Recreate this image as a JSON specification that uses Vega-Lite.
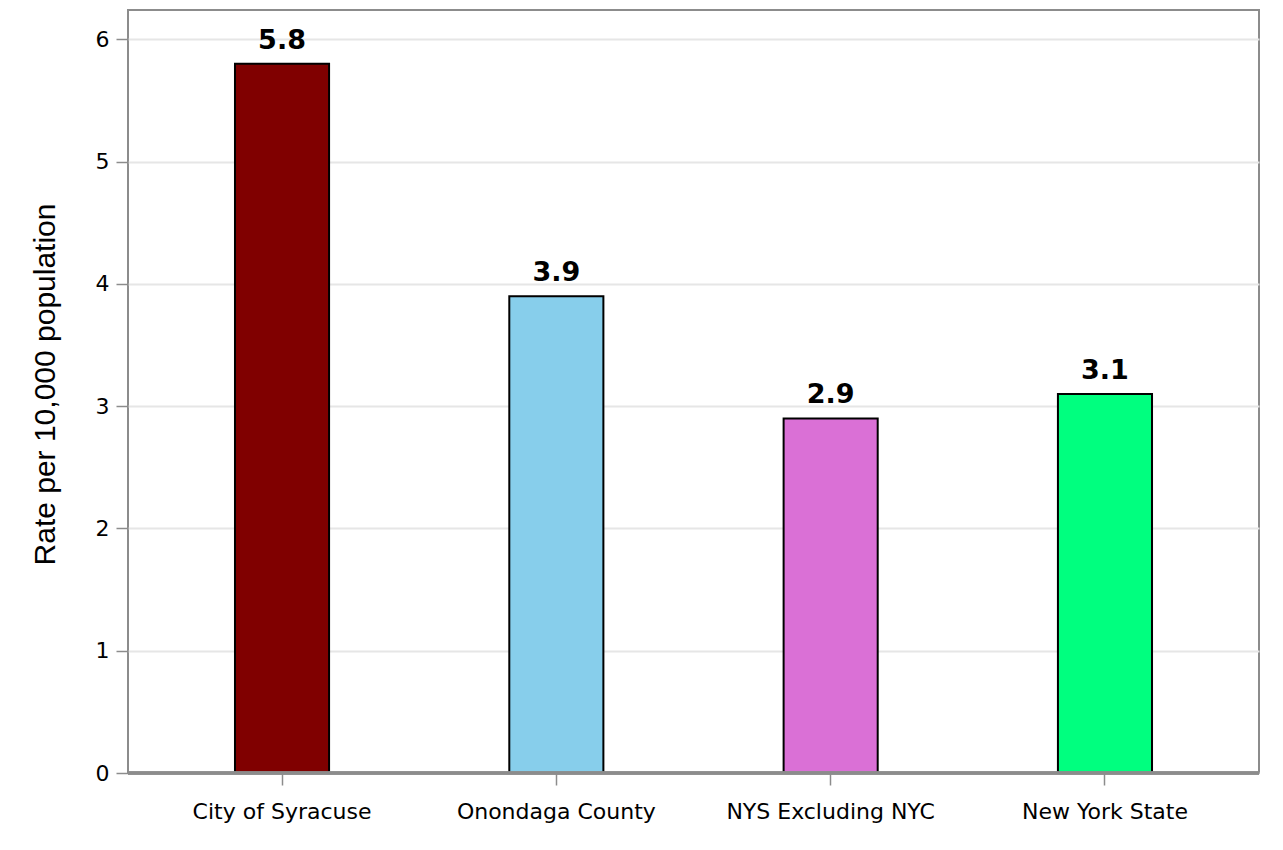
{
  "$schema": "https://vega.github.io/schema/vega-lite/v6.json",
  "width": 1131,
  "height": 763,
  "autosize": {"type": "none"},
  "padding": {"left": 128, "top": 10, "right": 24, "bottom": 77},
  "background": "white",
  "config": {
    "view": {"stroke": "#8c8c8c", "strokeWidth": 2},
    "axis": {
      "labelFont": "DejaVu Sans",
      "labelColor": "#000000",
      "domainColor": "#8c8c8c",
      "domainWidth": 3,
      "tickColor": "#8c8c8c",
      "tickWidth": 1.5,
      "gridColor": "#e6e6e6",
      "gridWidth": 2
    }
  },
  "data": {
    "values": [
      {"area": "City of Syracuse", "rate": 5.8},
      {"area": "Onondaga County", "rate": 3.9},
      {"area": "NYS Excluding NYC", "rate": 2.9},
      {"area": "New York State", "rate": 3.1}
    ]
  },
  "encoding": {
    "x": {
      "field": "area",
      "type": "nominal",
      "sort": null,
      "scale": {"paddingInner": 0, "paddingOuter": 0.0615},
      "axis": {
        "title": null,
        "labelAngle": 0,
        "labelFontSize": 22,
        "labelLimit": 0,
        "tickSize": 12,
        "labelPadding": 16,
        "domain": false
      }
    },
    "y": {
      "field": "rate",
      "type": "quantitative",
      "scale": {"domain": [0, 6.24], "nice": false},
      "axis": {
        "values": [0, 1, 2, 3, 4, 5, 6],
        "title": "Rate per 10,000 population",
        "titleFont": "Liberation Sans",
        "titleFontSize": 30,
        "titleFontWeight": "normal",
        "titleColor": "#000000",
        "titleX": -68,
        "titleY": 374,
        "labelFontSize": 22,
        "tickSize": 12,
        "labelPadding": 7,
        "domain": false,
        "grid": true
      }
    }
  },
  "layer": [
    {
      "mark": {"type": "bar", "width": {"band": 0.343}, "stroke": "#000000", "strokeWidth": 2},
      "encoding": {
        "color": {
          "field": "area",
          "type": "nominal",
          "scale": {
            "domain": ["City of Syracuse", "Onondaga County", "NYS Excluding NYC", "New York State"],
            "range": ["#800000", "#87ceeb", "#da70d6", "#00ff7f"]
          },
          "legend": null
        }
      }
    },
    {
      "mark": {"type": "rule", "color": "#8c8c8c", "strokeWidth": 3},
      "encoding": {"y": {"datum": 0}, "x": null}
    },
    {
      "mark": {"type": "text", "font": "DejaVu Sans", "fontWeight": "bold", "fontSize": 27, "baseline": "bottom", "dy": -9, "color": "#000000"},
      "encoding": {"text": {"field": "rate", "type": "quantitative", "format": ".1f"}}
    }
  ]
}
